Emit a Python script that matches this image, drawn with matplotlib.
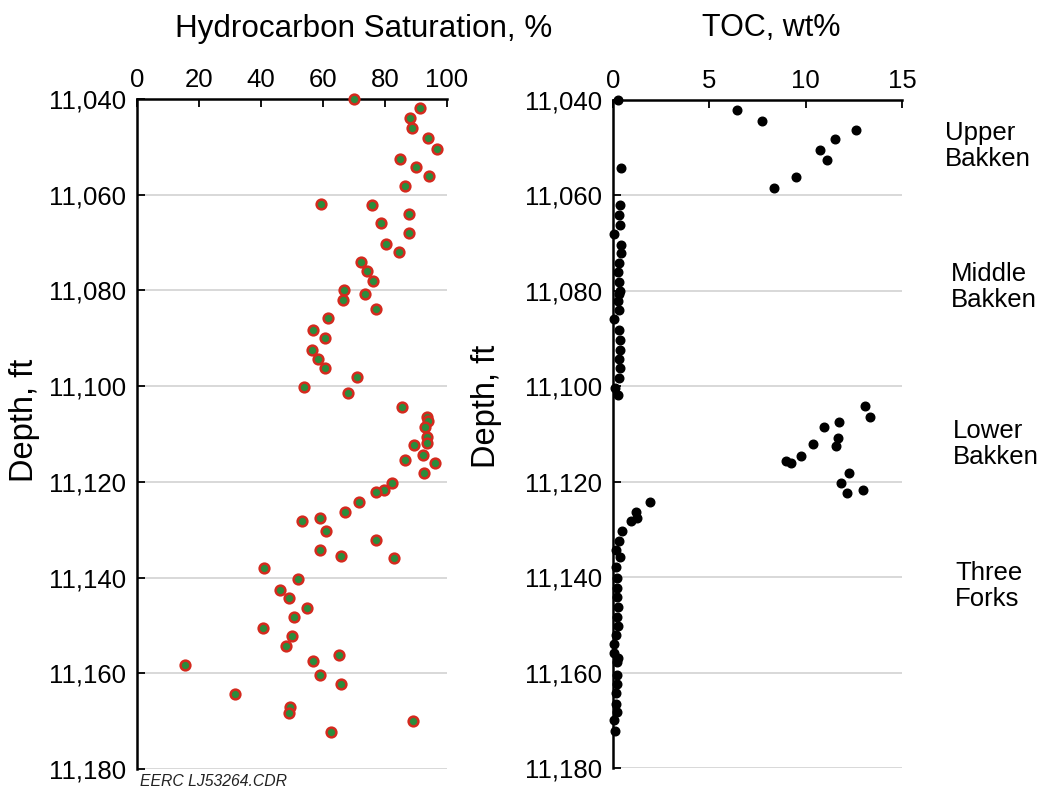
import matplotlib
matplotlib.use('Agg')
import matplotlib.pyplot as plt
from matplotlib.ticker import FuncFormatter

plt.rcParams['font.family'] = ['Liberation Sans', 'DejaVu Sans']

# hydrocarbon saturation log (depth ft, saturation %)
sat_depth = [11040.0, 11041.9, 11044.0, 11046.0, 11048.2, 11050.4, 11052.5, 11054.2, 11056.0, 11058.2,
             11062.0, 11062.2, 11064.0, 11066.0, 11068.0, 11070.2, 11072.0, 11074.0, 11076.0, 11078.0,
             11080.0, 11080.7, 11082.0, 11083.9, 11085.8, 11088.3, 11089.9, 11092.5, 11094.3, 11096.3,
             11098.0, 11100.2, 11101.5, 11104.3, 11106.5, 11107.2, 11108.5, 11110.7, 11111.9, 11112.2,
             11114.4, 11115.5, 11116.0, 11118.2, 11120.2, 11121.7, 11122.2, 11124.2, 11126.2, 11127.5,
             11128.2, 11130.2, 11132.2, 11134.2, 11135.5, 11136.0, 11138.0, 11140.2, 11142.5, 11144.3,
             11146.3, 11148.3, 11150.5, 11152.3, 11154.3, 11156.2, 11157.5, 11158.3, 11160.3, 11162.2,
             11164.3, 11167.0, 11168.2, 11170.0, 11172.2]
sat = [69.9, 91.2, 88.1, 88.7, 93.9, 96.9, 85.0, 89.9, 94.3, 86.5,
       59.4, 75.8, 87.7, 78.8, 87.7, 80.3, 84.6, 72.2, 74.1, 76.2,
       66.9, 73.4, 66.5, 77.0, 61.5, 56.8, 60.7, 56.3, 58.4, 60.7,
       71.1, 54.0, 68.0, 85.4, 93.4, 94.0, 92.9, 93.4, 93.4, 89.5,
       92.3, 86.5, 96.0, 92.6, 82.4, 79.7, 77.1, 71.7, 67.2, 59.0,
       53.2, 61.1, 77.2, 59.0, 65.9, 83.0, 41.0, 51.8, 46.0, 49.1,
       54.8, 50.5, 40.5, 50.1, 48.2, 65.2, 56.7, 15.6, 59.0, 65.9,
       31.7, 49.5, 49.1, 89.1, 62.5]

# total organic carbon (depth ft, wt%)
toc_depth = [11040.0, 11042.2, 11044.3, 11046.2, 11048.2, 11050.5, 11052.5, 11054.3, 11056.2, 11058.5,
             11062.0, 11064.0, 11066.1, 11068.0, 11070.3, 11072.1, 11074.1, 11076.1, 11078.1, 11080.0,
             11080.6, 11082.1, 11084.1, 11085.8, 11088.2, 11090.2, 11092.4, 11094.2, 11096.2, 11098.2,
             11100.3, 11101.8, 11104.2, 11106.5, 11107.5, 11108.5, 11110.8, 11112.0, 11112.6, 11114.7,
             11115.7, 11116.0, 11118.2, 11120.3, 11121.8, 11122.3, 11124.2, 11126.3, 11127.6, 11128.3,
             11130.3, 11132.4, 11134.3, 11135.7, 11137.9, 11140.2, 11142.2, 11144.2, 11146.2, 11148.3,
             11150.3, 11152.1, 11154.0, 11156.0, 11157.0, 11157.7, 11160.5, 11162.3, 11164.2, 11166.5,
             11168.2, 11170.0, 11172.2]
toc = [0.26, 6.43, 7.74, 12.61, 11.52, 10.75, 11.13, 0.41, 9.49, 8.35,
       0.36, 0.31, 0.34, 0.03, 0.41, 0.41, 0.31, 0.24, 0.31, 0.38,
       0.31, 0.24, 0.31, 0.07, 0.31, 0.36, 0.36, 0.31, 0.36, 0.31,
       0.09, 0.26, 13.06, 13.34, 11.75, 10.97, 11.70, 10.40, 11.58, 9.76,
       8.97, 9.23, 12.25, 11.84, 12.95, 12.14, 1.90, 1.17, 1.24, 0.91,
       0.48, 0.31, 0.16, 0.34, 0.14, 0.21, 0.21, 0.21, 0.28, 0.21,
       0.28, 0.14, 0.03, 0.07, 0.28, 0.21, 0.21, 0.21, 0.14, 0.14,
       0.21, 0.03, 0.10]

depth_ticks = [11040, 11060, 11080, 11100, 11120, 11140, 11160, 11180]
sat_ticks = [0, 20, 40, 60, 80, 100]
toc_ticks = [0, 5, 10, 15]

formations = ['Upper\nBakken', 'Middle\nBakken', 'Lower\nBakken', 'Three\nForks']
# pixel positions of the zone labels
formation_x = [945, 951, 953, 955]
formation_y = [146, 287, 444, 586]

W, H = 1045, 788
fig = plt.figure(figsize=(W / 100, H / 100), dpi=100)


def setup(ax, xticks):
    ax.set_ylim(11180, 11040)
    ax.set_xlim(xticks[0], xticks[-1])
    ax.set_yticks(depth_ticks)
    ax.set_xticks(xticks)
    ax.yaxis.set_major_formatter(FuncFormatter(lambda v, p: f'{int(v):,}'))
    ax.xaxis.tick_top()
    for s in ['right', 'bottom']:
        ax.spines[s].set_visible(False)
    for s in ['left', 'top']:
        ax.spines[s].set_linewidth(1.8)
        ax.spines[s].set_color('black')
    ax.tick_params(axis='x', direction='in', length=6, width=1.3, pad=5, labelsize=18.5)
    ax.tick_params(axis='y', direction='in', length=5.5, width=1.3, pad=8, labelsize=18.5)
    ax.yaxis.grid(True, color='#d6d6d6', lw=1.3)
    ax.set_axisbelow(True)


ax1 = fig.add_axes([137 / W, 1 - 769 / H, 310 / W, 670 / H])
setup(ax1, sat_ticks)
ax1.plot(sat, sat_depth, 'o', ms=7, mfc='#2b8c3c', mec='#d42a1e', mew=1.8,
         clip_on=False, zorder=3)

ax2 = fig.add_axes([613 / W, 1 - 768 / H, 289 / W, 668 / H])
setup(ax2, toc_ticks)
ax2.plot(toc, toc_depth, 'o', ms=6.2, color='black', clip_on=False, zorder=3)

fig.text(364 / W, 1 - 37 / H, 'Hydrocarbon Saturation, %', ha='center', va='baseline', fontsize=22.6)
fig.text(771 / W, 1 - 36 / H, 'TOC, wt%', ha='center', va='baseline', fontsize=22)
fig.text(24 / W, 1 - 420 / H, 'Depth, ft', rotation=90, ha='center', va='center', fontsize=23.5)
fig.text(486 / W, 1 - 406 / H, 'Depth, ft', rotation=90, ha='center', va='center', fontsize=23.5)

for name, xp, yp in zip(formations, formation_x, formation_y):
    fig.text(xp / W, 1 - yp / H, name, ha='left', va='center', fontsize=18.5, linespacing=1.12)

fig.text(140 / W, 1 - 782 / H, 'EERC LJ53264.CDR', ha='left', va='center',
         fontsize=11.3, style='italic', color='#222222')

fig.savefig('out.png', dpi=100)
